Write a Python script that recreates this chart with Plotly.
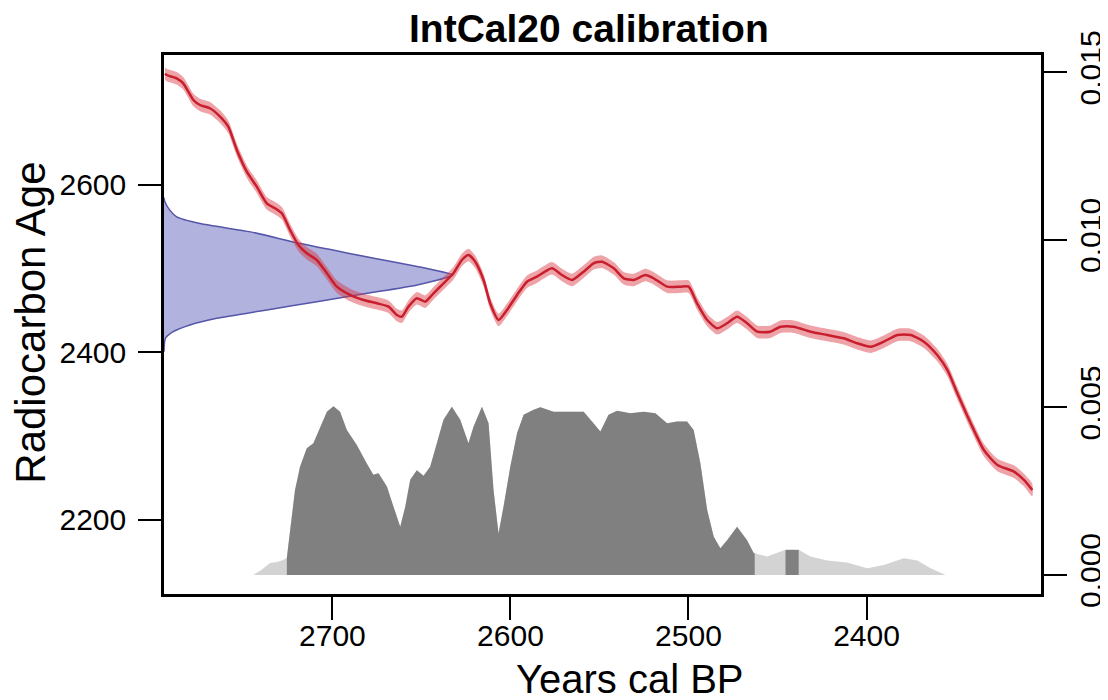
import plotly.graph_objects as go

# ---------------- data ----------------
# IntCal20 calibration curve: calendar year (cal BP) vs radiocarbon age
CURVE_YEAR = [2794.0, 2793.1, 2787.5, 2783.8, 2778.1, 2774.4, 2768.8, 2763.1, 2758.5,
              2753.7, 2748.1, 2742.5, 2736.9, 2732.2, 2728.4, 2723.8, 2719.1, 2714.4,
              2708.8, 2703.1, 2697.5, 2690.1, 2682.6, 2675.0, 2668.5, 2663.8, 2661.0,
              2657.3, 2652.6, 2647.9, 2643.2, 2637.6, 2632.0, 2627.3, 2623.6, 2619.8,
              2615.1, 2611.4, 2606.7, 2602.0, 2596.3, 2590.7, 2585.1, 2576.7, 2571.1,
              2565.4, 2558.9, 2553.3, 2548.6, 2542.0, 2536.4, 2530.8, 2524.2, 2519.6,
              2512.0, 2504.5, 2499.9, 2495.2, 2489.5, 2483.9, 2478.3, 2472.7, 2467.1,
              2461.4, 2454.0, 2448.3, 2440.9, 2431.5, 2422.1, 2412.8, 2405.2, 2397.7,
              2390.3, 2382.7, 2375.2, 2367.8, 2360.3, 2354.6, 2349.0, 2341.5, 2334.1,
              2326.5, 2317.2, 2311.6, 2306.9]
CURVE_AGE = [2733.0, 2731.3, 2727.4, 2721.4, 2701.5, 2695.5, 2691.6, 2681.6, 2669.6,
             2641.8, 2615.9, 2598.0, 2578.1, 2572.2, 2566.2, 2546.3, 2528.4, 2518.4,
             2510.4, 2494.6, 2478.6, 2468.7, 2462.7, 2458.7, 2454.7, 2444.8, 2442.7,
             2454.7, 2464.7, 2460.7, 2470.7, 2482.6, 2494.6, 2510.4, 2516.4, 2508.4,
             2486.6, 2458.7, 2438.8, 2450.7, 2468.7, 2484.5, 2490.5, 2500.5, 2492.5,
             2486.6, 2496.5, 2506.5, 2508.4, 2500.5, 2488.6, 2486.6, 2492.5, 2488.6,
             2478.6, 2478.6, 2478.6, 2458.7, 2438.8, 2428.9, 2434.9, 2442.7, 2434.9,
             2424.8, 2424.8, 2430.8, 2430.8, 2424.8, 2420.9, 2416.9, 2411.0, 2406.9,
             2412.9, 2420.9, 2420.9, 2412.9, 2397.0, 2379.1, 2351.3, 2315.5, 2283.6,
             2265.7, 2257.7, 2247.8, 2235.8]
CURVE_SIGMA = 7.5  # half width of the curve's error band (radiocarbon years)

# calibrated probability density (calendar year vs density)
DENS_YEAR = [2744.4, 2740.0, 2735.0, 2731.0, 2727.7, 2725.6, 2723.8, 2721.0, 2718.2,
             2714.4, 2710.7, 2706.9, 2703.1, 2699.4, 2695.7, 2691.9, 2686.3, 2680.7,
             2677.0, 2674.1, 2669.4, 2665.7, 2661.9, 2659.1, 2656.3, 2652.6, 2648.8,
             2645.1, 2641.3, 2637.6, 2632.9, 2628.2, 2623.6, 2620.7, 2616.0, 2612.3,
             2609.5, 2606.7, 2603.9, 2600.1, 2596.3, 2592.6, 2587.0, 2583.2, 2575.8,
             2566.4, 2558.9, 2554.2, 2549.5, 2544.9, 2540.1, 2532.7, 2525.2, 2518.6,
             2512.0, 2506.4, 2500.8, 2497.1, 2493.3, 2489.5, 2485.8, 2482.1, 2478.3,
             2472.7, 2467.1, 2463.3, 2462.8, 2455.8, 2450.2, 2445.5, 2438.1, 2431.5,
             2422.1, 2410.9, 2399.6, 2390.3, 2379.0, 2371.5, 2364.0, 2355.6]
DENS = [0.00000, 0.00015, 0.00036, 0.00039, 0.00045, 0.00051, 0.00134, 0.00254, 0.00323,
        0.00378, 0.00393, 0.00443, 0.00487, 0.00504, 0.00487, 0.00433, 0.00388, 0.00333,
        0.00299, 0.00304, 0.00264, 0.00204, 0.00144, 0.00204, 0.00284, 0.00313, 0.00296,
        0.00323, 0.00393, 0.00463, 0.00502, 0.00463, 0.00393, 0.00443, 0.00502, 0.00453,
        0.00254, 0.00124, 0.00204, 0.00323, 0.00423, 0.00478, 0.00493, 0.00501, 0.00487,
        0.00487, 0.00487, 0.00458, 0.00428, 0.00478, 0.00490, 0.00483, 0.00487, 0.00483,
        0.00453, 0.00458, 0.00458, 0.00433, 0.00333, 0.00194, 0.00114, 0.00080, 0.00104,
        0.00144, 0.00104, 0.00065, 0.00065, 0.00055, 0.00065, 0.00075, 0.00075, 0.00055,
        0.00043, 0.00037, 0.00020, 0.00030, 0.00050, 0.00043, 0.00020, 0.00000]
# 95% highest density ranges (cal BP, older -> younger)
HPD_RANGES = [(2725.6, 2462.8), (2445.5, 2438.1)]

# measured radiocarbon age distribution (age vs relative height)
BLUE_AGE = [2585.0, 2580.0, 2570.0, 2562.0, 2554.0, 2544.0, 2530.0, 2518.0, 2506.5,
            2498.5, 2492.5, 2480.6, 2470.7, 2460.7, 2450.7, 2440.8, 2432.8, 2424.8,
            2417.0, 2401.0]
BLUE_REL = [0.0, 0.003, 0.02, 0.044, 0.125, 0.30, 0.473, 0.647, 0.82,
            0.936, 1.0, 0.878, 0.705, 0.53, 0.357, 0.183, 0.09, 0.032,
            0.005, 0.0]
BLUE_MAX_WIDTH = 162.0  # calendar years spanned by the peak

X_RANGE = [2794.6, 2302.0]
Y_RANGE = [2111.6, 2755.2]
Y2_RANGE = [-0.000567, 0.01552]
X_TICKS = [2700, 2600, 2500, 2400]
Y_TICKS = [2200, 2400, 2600]
Y2_TICKS = [0.0, 0.005, 0.010, 0.015]
Y2_LABELS = ["0.000", "0.005", "0.010", "0.015"]

FONT = "Liberation Sans, Arial, Helvetica, sans-serif"

fig = go.Figure()

# calibrated density: full (light grey), then HPD ranges (dark grey)
fig.add_trace(go.Scatter(x=DENS_YEAR, y=DENS, yaxis="y2", mode="lines",
                         line=dict(width=0, color="rgb(211,211,211)"),
                         fill="tozeroy", fillcolor="rgb(211,211,211)",
                         hoverinfo="skip", showlegend=False))
for start, end in HPD_RANGES:
    xs = [x for x in DENS_YEAR if start >= x >= end]
    ys = [d for x, d in zip(DENS_YEAR, DENS) if start >= x >= end]
    fig.add_trace(go.Scatter(x=xs, y=ys, yaxis="y2", mode="lines",
                             line=dict(width=0, color="rgb(128,128,128)"),
                             fill="tozeroy", fillcolor="rgb(128,128,128)",
                             hoverinfo="skip", showlegend=False))

# radiocarbon date distribution on the left margin
blue_x = [X_RANGE[0] - r * BLUE_MAX_WIDTH for r in BLUE_REL]
fig.add_trace(go.Scatter(x=blue_x, y=BLUE_AGE, mode="lines",
                         line=dict(width=1.5, color="rgb(85,85,170)", shape="spline",
                                   smoothing=0.6),
                         fill="toself", fillcolor="rgba(95,95,185,0.48)",
                         hoverinfo="skip", showlegend=False))

# calibration curve band + line
upper = [a + CURVE_SIGMA for a in CURVE_AGE]
lower = [a - CURVE_SIGMA for a in CURVE_AGE]
fig.add_trace(go.Scatter(x=CURVE_YEAR + CURVE_YEAR[::-1], y=upper + lower[::-1],
                         mode="lines", line=dict(width=0, shape="spline", smoothing=0.6),
                         fill="toself", fillcolor="rgba(215,50,60,0.45)",
                         hoverinfo="skip", showlegend=False))
fig.add_trace(go.Scatter(x=CURVE_YEAR, y=CURVE_AGE, mode="lines",
                         line=dict(width=2.5, color="rgb(200,30,45)", shape="spline",
                                   smoothing=0.6),
                         hoverinfo="skip", showlegend=False))

axis_common = dict(showgrid=False, zeroline=False, showline=True, linecolor="black",
                   linewidth=2.5, ticks="outside", ticklen=23, tickwidth=2,
                   tickcolor="black", automargin=False,
                   tickfont=dict(family=FONT, size=30, color="black"))

# the page body has an 8px default margin, so the figure is sized to fit the window
fig.update_layout(
    width=1100, height=692,
    margin=dict(l=156, r=67, t=47, b=106, autoexpand=False),
    paper_bgcolor="white", plot_bgcolor="white",
    xaxis=dict(range=X_RANGE, tickvals=X_TICKS, mirror=True, ticklabelstandoff=-10,
               **axis_common),
    yaxis=dict(range=Y_RANGE, tickvals=Y_TICKS, mirror=False, ticklabelstandoff=6,
               ticklabelposition="outside", **axis_common),
    yaxis2=dict(range=Y2_RANGE, tickvals=Y2_TICKS, ticktext=Y2_LABELS, overlaying="y",
                side="right", tickangle=-90, ticklabelstandoff=-2, **axis_common),
    annotations=[
        dict(text="<b>IntCal20 calibration</b>", xref="paper", yref="paper",
             x=0.4846, y=1.05, xanchor="center", yanchor="middle", showarrow=False,
             font=dict(family=FONT, size=39, color="black")),
        dict(text="Years cal BP", xref="paper", yref="paper",
             x=0.5308, y=-0.158, xanchor="center", yanchor="middle", showarrow=False,
             font=dict(family=FONT, size=40, color="black")),
        dict(text="Radiocarbon Age", xref="paper", yref="paper",
             x=-0.152, y=0.5028, xanchor="center", yanchor="middle", showarrow=False,
             textangle=-90, font=dict(family=FONT, size=42, color="black")),
    ],
)

fig.write_html("out.html")
